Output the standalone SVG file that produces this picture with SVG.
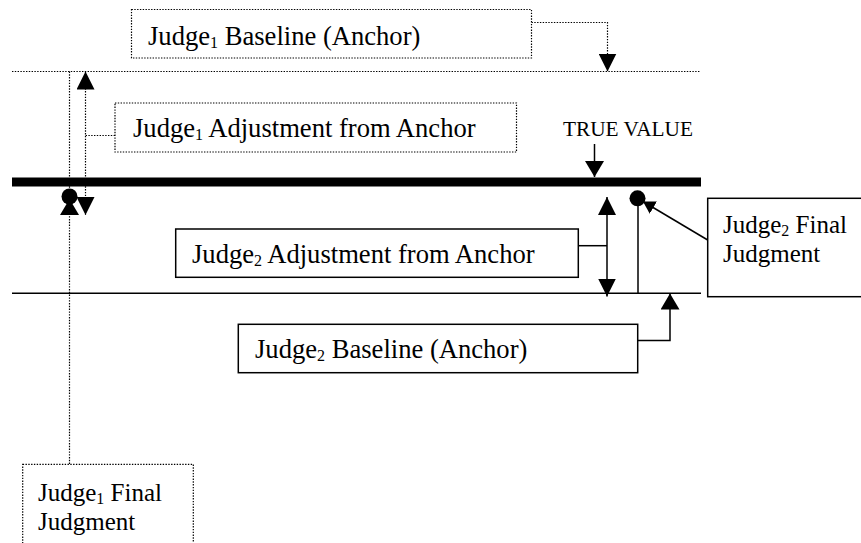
<svg xmlns="http://www.w3.org/2000/svg" width="861" height="543" viewBox="0 0 861 543">
<defs>
<style>
.t{font-family:"Liberation Serif","Times New Roman",serif;font-size:26.6px;fill:#000}
.f{font-size:25px}
.s{font-size:16px}
.tv{font-family:"Liberation Serif","Times New Roman",serif;font-size:21.3px;fill:#000}
.dot{fill:none;stroke:#000;stroke-width:1.2;stroke-dasharray:1.4 1.4}
.sol{fill:none;stroke:#000;stroke-width:1.5}
.box{fill:#fff;stroke:#000;stroke-width:1.5}
.dbox{fill:#fff;stroke:#000;stroke-width:1.2;stroke-dasharray:1.4 1.4}
</style>
<marker id="a" markerUnits="userSpaceOnUse" markerWidth="18" markerHeight="18" viewBox="0 0 18 18" refX="18" refY="9" orient="auto-start-reverse"><path d="M0,0 L18,9 L0,18 z" fill="#000"/></marker>
<marker id="b" markerUnits="userSpaceOnUse" markerWidth="16" markerHeight="19" viewBox="0 0 16 19" refX="16" refY="9.5" orient="auto"><path d="M0,0 L16,9.5 L0,19 z" fill="#000"/></marker>
<marker id="c" markerUnits="userSpaceOnUse" markerWidth="12" markerHeight="14" viewBox="0 0 12 14" refX="12" refY="7" orient="auto"><path d="M0,0 L12,7 L0,14 z" fill="#000"/></marker>
</defs>
<rect width="861" height="543" fill="#fff"/>

<g id="connectors">
<line class="dot" x1="12" y1="71.5" x2="700" y2="71.5"/>
<rect x="12" y="177.5" width="689" height="9" fill="#000"/>
<line class="sol" x1="12" y1="293.3" x2="701" y2="293.3"/>
<polyline class="dot" points="531.5,22.5 607.5,22.5 607.5,71.5" marker-end="url(#a)"/>
<line class="dot" x1="69.5" y1="71.5" x2="69.5" y2="196"/>
<line class="dot" x1="69.5" y1="464" x2="69.5" y2="199" marker-end="url(#b)"/>
<line class="dot" x1="85.5" y1="71.5" x2="85.5" y2="215" marker-start="url(#a)" marker-end="url(#a)"/>
<line class="dot" x1="115" y1="135.5" x2="85.5" y2="135.5"/>
<circle cx="69.5" cy="196.5" r="8" fill="#000"/>
<line class="sol" x1="594.5" y1="144" x2="594.5" y2="177" marker-end="url(#b)"/>
<line class="sol" x1="607" y1="197" x2="607" y2="296.5" marker-start="url(#a)" marker-end="url(#a)"/>
<line class="sol" x1="578" y1="245.7" x2="607" y2="245.7"/>
<line class="sol" x1="638" y1="198" x2="638" y2="293.3"/>
<circle cx="637.5" cy="198.3" r="8" fill="#000"/>
<line class="sol" x1="707.7" y1="240" x2="643" y2="201.5" marker-end="url(#c)"/>
<polyline class="sol" points="638,340.5 670,340.5 670,293.5" marker-end="url(#b)"/>
</g>

<g id="judge1-baseline">
<rect class="dbox" x="131.5" y="9.5" width="400" height="48.5"/>
<text class="t" x="148" y="44.5">Judge<tspan class="s" dy="3">1</tspan><tspan dy="-3"> Baseline (Anchor)</tspan></text>
</g>
<g id="judge1-adjustment">
<rect class="dbox" x="115" y="103" width="401.5" height="49"/>
<text class="t" x="133" y="137">Judge<tspan class="s" dy="3">1</tspan><tspan dy="-3"> Adjustment from Anchor</tspan></text>
</g>
<g id="true-value">
<text class="tv" x="563" y="136">TRUE VALUE</text>
</g>
<g id="judge2-adjustment">
<rect class="box" x="175.7" y="229" width="402.6" height="48.3"/>
<text class="t" x="192" y="263">Judge<tspan class="s" dy="3">2</tspan><tspan dy="-3"> Adjustment from Anchor</tspan></text>
</g>
<g id="judge2-baseline">
<rect class="box" x="238.3" y="324.3" width="399.4" height="48.4"/>
<text class="t" x="255" y="358">Judge<tspan class="s" dy="3">2</tspan><tspan dy="-3"> Baseline (Anchor)</tspan></text>
</g>
<g id="judge2-final">
<rect class="box" x="707.7" y="198.3" width="160" height="98.4"/>
<text class="t f" x="723" y="232.5">Judge<tspan class="s" dy="3">2</tspan><tspan dy="-3"> Final</tspan><tspan x="723" dy="29">Judgment</tspan></text>
</g>
<g id="judge1-final">
<rect class="dbox" x="22.7" y="464.3" width="170.6" height="100"/>
<text class="t f" x="38" y="501">Judge<tspan class="s" dy="3">1</tspan><tspan dy="-3"> Final</tspan><tspan x="38" dy="29">Judgment</tspan></text>
</g>
</svg>
